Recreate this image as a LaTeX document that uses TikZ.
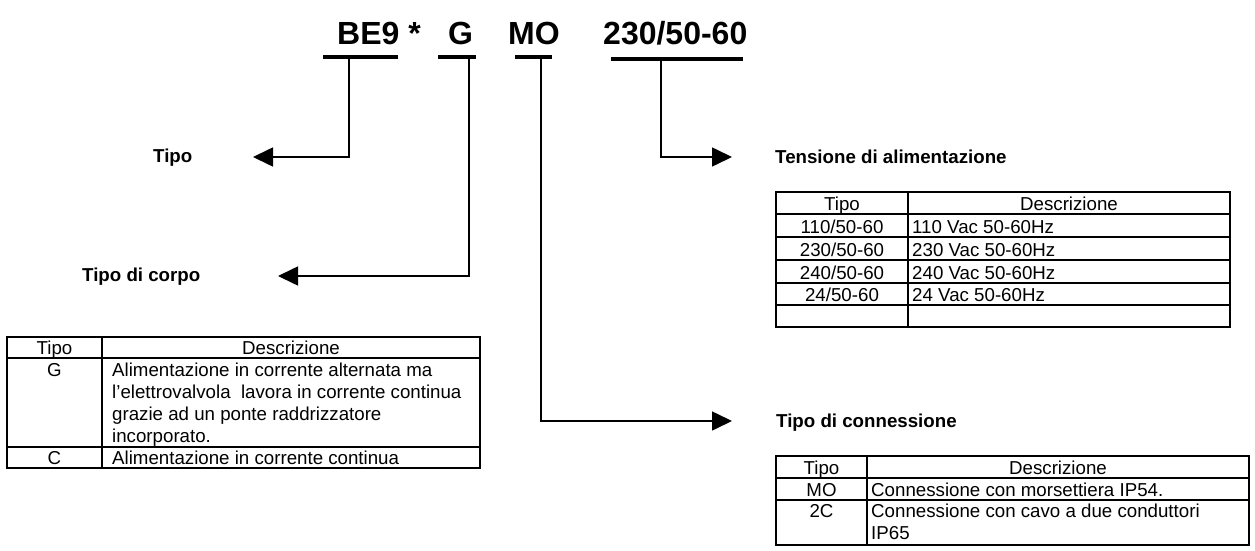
\documentclass[tikz,border=0pt]{standalone}
\usepackage{fontspec}
\setmainfont{Liberation Sans}
\usetikzlibrary{arrows.meta}

\tikzset{
  code/.style={font=\fontsize{32}{38}\selectfont\bfseries, anchor=base west, inner sep=0pt},
  bar/.style={line width=4pt},
  lead/.style={line width=1.6pt, -{Triangle[length=20pt,width=19pt]}},
  heading/.style={font=\fontsize{18.7}{22}\selectfont\bfseries, anchor=base west, inner sep=0pt},
  tabline/.style={line width=1.8pt},
  cell/.style={font=\fontsize{18.7}{22}\selectfont, anchor=base, inner sep=0pt},
  desc/.style={font=\fontsize{18.7}{22}\selectfont, anchor=base west, inner sep=0pt},
}

\begin{document}
\begin{tikzpicture}[x=1pt,y=-1pt]
    \useasboundingbox (0,0) rectangle (1255,551);
    % order code
    \node[code] (be9) at (337,45) {BE9 *};
    \node[code] (g) at (448,45) {G};
    \node[code] (mo) at (508,45) {MO};
    \node[code] (volt) at (603,45) {230/50-60};
    \draw[bar] (323,57) -- (398,57);
    \draw[bar] (438,57) -- (476,57);
    \draw[bar] (515,57) -- (552,57);
    \draw[bar] (611,59.5) -- (743,59.5);
    \coordinate (be9bar) at (349,57);
    \coordinate (gbar) at (469,57);
    \coordinate (mobar) at (541,57);
    \coordinate (voltbar) at (661,59.5);

    % headings and leads
    \node[heading] (tipo) at (153,162) {Tipo};
    \node[heading] (corpo) at (82,281) {Tipo di corpo};
    \node[heading] (tensione) at (775,163) {Tensione di alimentazione};
    \node[heading] (conn) at (776,427) {Tipo di connessione};
    \coordinate (tipotip) at (253,157);
    \coordinate (corpotip) at (278,276);
    \coordinate (tensionetip) at (732,157);
    \coordinate (conntip) at (732,421);
    \draw[lead] (be9bar) |- (tipotip);
    \draw[lead] (gbar) |- (corpotip);
    \draw[lead] (voltbar) |- (tensionetip);
    \draw[lead] (mobar) |- (conntip);

    % table: tipo di corpo
    \draw[tabline] (7,337) rectangle (480,468);
    \draw[tabline] (7,358) -- (480,358);
    \draw[tabline] (7,447) -- (480,447);
    \draw[tabline] (102,337) -- (102,468);
    \node[cell] (ca) at (54.5,354) {Tipo};
    \node[cell] (cb) at (291,354) {Descrizione};
    \node[cell] (cg) at (54.5,376) {G};
    \node[desc] (cga) at (112,376) {Alimentazione in corrente alternata ma};
    \node[desc] (cgb) at (112,398) {l’elettrovalvola\ \ lavora in corrente continua};
    \node[desc] (cgc) at (112,420) {grazie ad un ponte raddrizzatore};
    \node[desc] (cgd) at (112,442) {incorporato.};
    \node[cell] (cc) at (54.5,464) {C};
    \node[desc] (cca) at (112,464) {Alimentazione in corrente continua};

    % table: tensione
    \draw[tabline] (776,192) rectangle (1230,327);
    \draw[tabline] (776,214) -- (1230,214);
    \draw[tabline] (776,237) -- (1230,237);
    \draw[tabline] (776,260) -- (1230,260);
    \draw[tabline] (776,283) -- (1230,283);
    \draw[tabline] (776,305) -- (1230,305);
    \draw[tabline] (908,192) -- (908,327);
    \node[cell] (ta) at (842,210) {Tipo};
    \node[cell] (tb) at (1069,210) {Descrizione};
    \node[cell] (t110) at (842,233) {110/50-60};
    \node[desc] (t110d) at (912,233) {110 Vac 50-60Hz};
    \node[cell] (t230) at (842,256) {230/50-60};
    \node[desc] (t230d) at (912,256) {230 Vac 50-60Hz};
    \node[cell] (t240) at (842,279) {240/50-60};
    \node[desc] (t240d) at (912,279) {240 Vac 50-60Hz};
    \node[cell] (t24) at (842,301) {24/50-60};
    \node[desc] (t24d) at (912,301) {24 Vac 50-60Hz};

    % table: connessione
    \draw[tabline] (776,456) rectangle (1249,545);
    \draw[tabline] (776,478) -- (1249,478);
    \draw[tabline] (776,500) -- (1249,500);
    \draw[tabline] (867,456) -- (867,545);
    \node[cell] (na) at (821.5,474) {Tipo};
    \node[cell] (nb) at (1058,474) {Descrizione};
    \node[cell] (nmo) at (821.5,496) {MO};
    \node[desc] (nmod) at (871,496) {Connessione con morsettiera IP54.};
    \node[cell] (n2c) at (821.5,517) {2C};
    \node[desc] (n2ca) at (871,517) {Connessione con cavo a due conduttori};
    \node[desc] (n2cb) at (871,539) {IP65};
\end{tikzpicture}
\end{document}
